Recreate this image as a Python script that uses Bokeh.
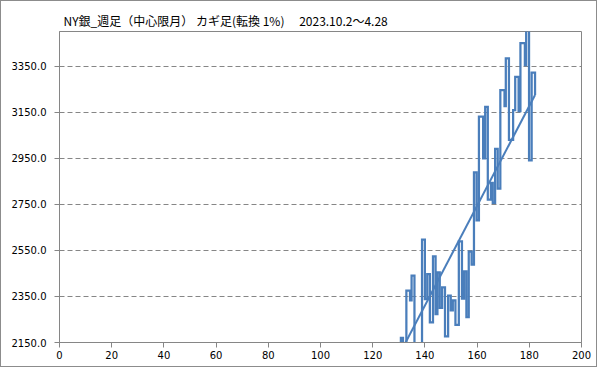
from bokeh.plotting import figure
from bokeh.models import Range1d, FixedTicker, NumeralTickFormatter
from bokeh.embed import file_html
from bokeh.resources import INLINE

# ---- data ----
title_text = "NY銀_週足（中心限月）\u00a0カギ足(転換\u00a01%)\u3000\u00a02023.10.2～4.28"

# x position of each kagi vertical and the level it reaches
turn_x = [130.8, 131.6, 132.9, 134.3, 134.9, 136.0, 138.9, 140.0, 140.9, 141.9,
          143.1, 144.1, 144.8, 145.7, 146.6, 147.7, 148.9, 149.9, 150.7, 151.7,
          153.0, 154.2, 155.0, 155.9, 156.8, 157.9, 158.8, 159.8, 160.7, 162.3,
          163.1, 164.1, 165.3, 166.0, 166.9, 167.9, 168.9, 170.5, 171.0, 172.2,
          173.8, 174.6, 175.9, 176.6, 178.3, 178.8, 179.9, 180.9, 182.2]
turn_y = [2170, 2110, 2375, 2333, 2440, 2110, 2597, 2338, 2447, 2237,
          2524, 2273, 2454, 2300, 2389, 2177, 2354, 2289, 2333, 2227,
          2589, 2340, 2459, 2260, 2545, 2488, 2888, 2680, 3130, 2949,
          3173, 2770, 2843, 2756, 2990, 2818, 3246, 3176, 3383, 3030,
          3159, 3303, 3154, 3449, 3354, 3510, 2941, 3321, 3224]
start_y = 2100

trend_x = [130.8, 182.2]
trend_y = [2111, 3224]

y_ticks = [2150, 2350, 2550, 2750, 2950, 3150, 3350]
x_ticks = [0, 20, 40, 60, 80, 100, 120, 140, 160, 180, 200]

# ---- kagi step path ----
kx, ky = [turn_x[0]], [start_y]
for i in range(len(turn_x)):
    kx.append(turn_x[i]); ky.append(turn_y[i])
    if i + 1 < len(turn_x):
        kx.append(turn_x[i + 1]); ky.append(turn_y[i])

BLUE = "#4A7EBB"
GREY = "#868686"

p = figure(width=597, height=367, output_backend="svg", toolbar_location=None,
           x_range=Range1d(0, 200), y_range=Range1d(2150, 3500),
           min_border_left=58, min_border_right=17, min_border_top=30, min_border_bottom=26)
p.styles = {"border": "1px solid #8c8c8c"}

p.title.text = title_text
p.title.text_font = "Noto Sans CJK JP"
p.title.text_font_size = "12px"
p.title.text_font_style = "normal"
p.title.text_color = "#000000"
p.title.align = "left"
p.title.offset = 4
p.title.standoff = 6

p.outline_line_color = GREY
p.outline_line_width = 1
p.background_fill_color = "white"
p.border_fill_color = "white"

p.xgrid.grid_line_color = None
p.ygrid.grid_line_color = GREY
p.ygrid.grid_line_dash = "5 3"
p.ygrid.grid_line_width = 1
p.ygrid.ticker = FixedTicker(ticks=y_ticks[1:])

p.yaxis.ticker = FixedTicker(ticks=y_ticks)
p.yaxis.formatter = NumeralTickFormatter(format="0.0")
p.xaxis.ticker = FixedTicker(ticks=x_ticks)
for ax in (p.xaxis, p.yaxis):
    ax.axis_line_color = GREY
    ax.major_tick_line_color = GREY
    ax.major_tick_in = 0
    ax.major_tick_out = 5
    ax.minor_tick_line_color = None
    ax.major_label_text_font = "DejaVu Sans"
    ax.major_label_text_font_size = "10px"
    ax.major_label_text_color = "#000000"
p.yaxis.major_label_standoff = 8
p.xaxis.major_label_standoff = 3

p.line(kx, ky, line_color=BLUE, line_width=2.25, line_join="miter")
p.line(trend_x, trend_y, line_color=BLUE, line_width=2)

open("out.html", "w").write(file_html(p, INLINE))
